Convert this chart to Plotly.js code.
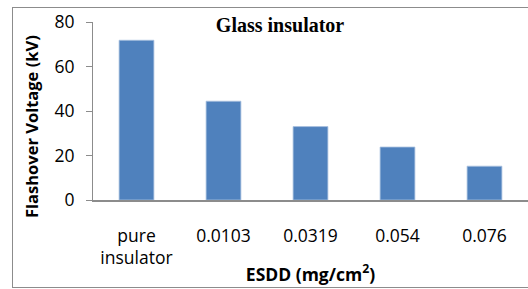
<!DOCTYPE html>
<html><head><meta charset="utf-8">
<script src="https://cdn.plot.ly/plotly-3.0.1.min.js"></script>
<style>
body{margin:0;padding:0;background:#fff;}
#wrap{position:relative;width:528px;height:289px;overflow:hidden;}
#chart{position:absolute;left:0;top:0;width:528px;height:289px;}
#frame{position:absolute;left:12px;top:7px;width:530px;height:279px;border:1px solid #8c8c8c;pointer-events:none;}
</style></head>
<body>
<div id="wrap"><div id="chart"></div><div id="frame"></div></div>
<script>
const categories = ["pure<br>insulator", "0.0103", "0.0319", "0.054", "0.076"];
const voltage = [71.8, 44.4, 33.0, 23.8, 15.2];
const yTicks = [0, 20, 40, 60, 80];
const chartTitle = "Glass insulator";
const xTitle = "ESDD (mg/cm<sup>2</sup>)";
const yTitle = "Flashover Voltage (kV)";

const trace = {
  type: "bar",
  x: categories,
  y: voltage,
  marker: {color: "#4f81bd", line: {color: "#a9c1e0", width: 0.8}},
  width: 0.4,
  hoverinfo: "none"
};

const layout = {
  width: 528, height: 289,
  margin: {l: 93, r: 0, t: 22, b: 89},
  paper_bgcolor: "rgba(0,0,0,0)",
  plot_bgcolor: "rgba(0,0,0,0)",
  showlegend: false,
  font: {family: "'Open Sans', sans-serif", color: "#000"},
  title: {
    text: "<b>" + chartTitle + "</b>",
    font: {family: "'Liberation Serif', 'Times New Roman', serif", size: 20, color: "#000"},
    x: 0.43, xref: "paper", xanchor: "center",
    y: 0.913, yanchor: "middle"
  },
  xaxis: {
    type: "category",
    showgrid: false, zeroline: false,
    showline: true, linecolor: "#8c8c8c", linewidth: 1.5,
    ticks: "", tickfont: {size: 17.5, color: "#000"},
    ticklabelstandoff: 19,
    title: {text: "<b>" + xTitle + "</b>", font: {size: 17.5, color: "#000"}, standoff: 0}
  },
  yaxis: {
    range: [0, 80],
    tickvals: yTicks,
    showgrid: false, zeroline: false,
    showline: true, linecolor: "#8c8c8c", linewidth: 1,
    ticks: "outside", ticklen: 6, tickcolor: "#8c8c8c",
    tickfont: {size: 17.5, color: "#000"},
    ticklabelstandoff: 8
  },
  annotations: [{
    text: "<b>" + yTitle + "</b>",
    textangle: -90,
    xref: "paper", yref: "paper",
    x: -0.1425, y: 0.41,
    xanchor: "center", yanchor: "middle",
    showarrow: false,
    font: {size: 16.5, color: "#000"}
  }]
};

Plotly.newPlot("chart", [trace], layout, {displayModeBar: false, staticPlot: true});
</script>
</body></html>
